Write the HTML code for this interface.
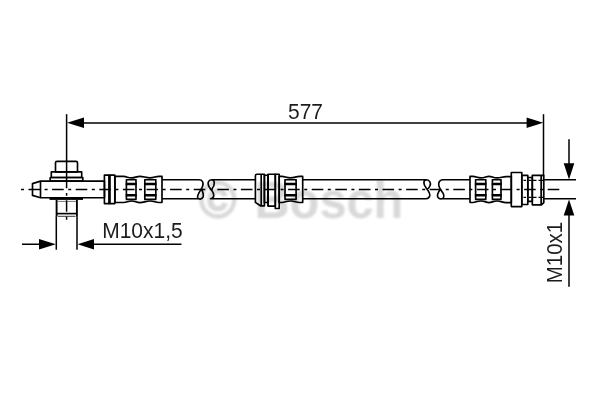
<!DOCTYPE html>
<html lang="en">
<head>
<meta charset="utf-8">
<title>Bosch brake hose 577 mm M10x1,5 / M10x1</title>
<style>
html,body{margin:0;padding:0;background:#fff;}
body{width:600px;height:400px;overflow:hidden;font-family:"Liberation Sans",sans-serif;}
svg{display:block;}
.o{fill:none;stroke:#000;stroke-width:1.65;stroke-linejoin:round;}
.l{fill:none;stroke:#000;stroke-width:1.65;stroke-linecap:butt;stroke-linejoin:round;}
.t{fill:none;stroke:#000;stroke-width:1.5;}
.c{fill:none;stroke:#000;stroke-width:1.4;}
.a{fill:#000;stroke:none;}
.txt{font-family:"Liberation Sans",sans-serif;font-size:21px;fill:#1c1c1c;}
.wm{font-family:"Liberation Sans",sans-serif;font-weight:bold;font-size:52px;fill:#d9d9d9;}
</style>
</head>
<body>
<svg width="600" height="400" viewBox="0 0 600 400">
<defs>
<filter id="b" x="-10%" y="-20%" width="120%" height="140%"><feGaussianBlur stdDeviation="1.1"/></filter>
<filter id="s" x="0" y="0" width="600" height="400" filterUnits="userSpaceOnUse"><feGaussianBlur stdDeviation="0.4"/></filter>
</defs>
<rect width="600" height="400" fill="#fff"/>

<!-- watermark -->
<g filter="url(#b)">
<text class="wm" transform="translate(199,217.6) scale(1,0.98)" textLength="37.5" lengthAdjust="spacingAndGlyphs" style="stroke:#d9d9d9;stroke-width:1.6">©</text>
<text class="wm" transform="translate(254.4,217.9) scale(1,1.01)" textLength="149" lengthAdjust="spacingAndGlyphs">Bosch</text>
</g>

<g transform="translate(0,0.2)" filter="url(#s)">
<!-- hose segments -->
<g id="hose">
<path class="o" d="M162,179.5 L199,179.5 C202.5,179.5 203.8,182.5 202.6,186 C201.4,189.5 197.2,194 197.6,197 C198,199.4 201.8,199.6 203,197 C204.2,194.3 202.6,191.5 201.6,189 M162,198.5 L199.5,198.5"/>
<path class="o" d="M255.5,179.5 L212,179.5 C208.8,179.5 207.4,182 208.4,185 C209.4,188 212.6,190.5 213.5,193.5 C214.3,196.3 213,198.5 210.5,198.5 L255.5,198.5 M212,179.5 C214.8,180 215.4,184.5 212,188.5"/>
<path class="o" d="M303,179.5 L426,179.5 C423.4,180 423,184 426,187.5 C428,190 430.2,193 429.8,195.5 C429.4,197.6 428,198.5 426,198.5 L303,198.5 M426,179.5 C429.5,179.5 431.2,182.5 430,185.5 C429.2,187.6 427.6,189 427,189.5"/>
<path class="o" d="M470,179.5 L442.5,179.5 C439.4,180 438.2,182.5 438.8,185.5 C439.4,188.5 441.5,190.5 443,193 C444.8,196 443.6,198.8 441,198.8 C438.2,198.8 436.8,196.4 437.8,193.5 C438.4,191.8 439.5,190.3 440.4,189 M441,198.5 L470,198.5"/>
</g>

<!-- banjo fitting -->
<g id="banjo">
<path class="o" d="M55.5,171.6 L55.5,162.6 Q55.5,161.2 57,161.2 L76,161.2 Q77.5,161.2 77.5,162.6 L77.5,171.6 Z"/>
<rect class="o" x="51.3" y="171.7" width="30.4" height="5.6"/>
<rect class="o" x="50.2" y="177.3" width="32.6" height="3.5"/>
<path class="o" d="M40.5,180.9 L104.5,180.9 L104.5,197.5 L40.5,197.5 L32.5,195.2 L32.5,183.4 Z"/>
<path class="l" d="M40.5,180.9 L40.5,197.5"/>
<rect class="a" x="49.5" y="197" width="33.5" height="2.7"/>
<path class="l" style="stroke-width:1.9" d="M56.6,199.5 V216.2 M76.9,199.5 V216.2"/>
<path class="l" style="stroke-width:1;stroke:#333" d="M58,216.1 H75.5"/>
<path class="l" d="M56.6,213.4 L76.9,213.4"/>
<path class="l" style="stroke:#777;stroke-width:1" d="M57.5,201.2 L76,201.2"/>
</g>

<!-- flanges + ferrule 1 -->
<g id="ferrule1">
<rect class="o" x="104.4" y="174.9" width="4.6" height="28.5"/>
<rect class="o" x="109.9" y="174.9" width="4.9" height="28.5"/>
<rect class="a" x="108.6" y="174.2" width="1.7" height="29.9"/>
<path class="o" d="M115,176.2 L123.5,176.2 C127,176.4 128,177.7 131.5,177.7 C135,177.7 136.5,176.1 140,176.1 C143.5,176.1 146,177.7 150,177.7 C154,177.7 155.5,176.1 159,176.1 L162,176.1 L162,202.3 L159,202.3 C155.5,202.3 154,200.8 150,200.8 C146,200.8 143.5,202.4 140,202.4 C136.5,202.4 135,200.8 131.5,200.8 C128,200.8 127,202.1 123.5,202.3 L115,202.3 Z"/>
<g class="l">
<path d="M126.4,179.3 V199.4 M136.0,179.3 V199.4 M125.8,179.5 H136.6 M125.8,199.2 H136.6"/>
<path style="stroke-width:2.5;stroke-linecap:butt" d="M125.7,183.7 H136.7 M125.7,195 H136.7"/>
<path d="M144.8,179.3 V199.4 M155.8,179.3 V199.4 M144.2,179.5 H156.4 M144.2,199.2 H156.4"/>
<path style="stroke-width:2.5;stroke-linecap:butt" d="M144.1,183.7 H156.5 M144.1,195 H156.5"/>
</g>
</g>

<!-- middle fitting + ferrule 2 -->
<g id="middle">
<path class="o" d="M255.4,175.5 Q255.4,174 257,174 L264.4,174 L264.4,205.6 L260.4,205.6 L255.4,202.2 Z"/>
<path class="l" d="M261.2,174 V205.6"/>
<rect class="o" x="264.4" y="175" width="3.6" height="27.3"/>
<rect class="o" x="268" y="174" width="7.3" height="31.9"/>
<rect class="a" x="267.2" y="174" width="1.7" height="31.9"/>
<rect class="o" x="275.3" y="174" width="3.9" height="34.3"/>
<path class="o" d="M279.2,176.2 L282,176.2 C285,176.4 286.5,177.7 290.5,177.7 C294.5,177.7 296,176.2 299.5,176.2 L302.7,176.2 L302.7,202.3 L299.5,202.3 C296,202.3 294.5,200.8 290.5,200.8 C286.5,200.8 285,202.1 282,202.3 L279.2,202.3 Z"/>
<g class="l">
<path d="M285.0,179.3 V199.4 M296.1,179.3 V199.4 M284.4,179.5 H296.7 M284.4,199.2 H296.7"/>
<path style="stroke-width:2.5;stroke-linecap:butt" d="M284.3,183.7 H296.8 M284.3,195 H296.8"/>
</g>
</g>

<!-- right ferrule + fitting -->
<g id="right">
<path class="o" d="M470,176.2 L473,176.2 C476,176.4 477,177.7 481,177.7 C485,177.7 486,176.1 489,176.1 C492,176.1 493,177.7 497,177.7 C501,177.7 502.5,176.4 506,176.4 L511.3,176.4 L511.3,202.4 L506,202.4 C502.5,202.4 501,200.8 497,200.8 C493,200.8 492,202.4 489,202.4 C486,202.4 485,200.8 481,200.8 C477,200.8 476,202.1 473,202.3 L470,202.3 Z"/>
<g class="l">
<path d="M475.6,179.3 V199.4 M485.8,179.3 V199.4 M475.0,179.5 H486.4 M475.0,199.2 H486.4"/>
<path style="stroke-width:2.5;stroke-linecap:butt" d="M474.9,183.7 H486.5 M474.9,195 H486.5"/>
<path d="M492.4,179.3 V199.4 M501.0,179.3 V199.4 M491.8,179.5 H501.6 M491.8,199.2 H501.6"/>
<path style="stroke-width:2.5;stroke-linecap:butt" d="M491.7,183.7 H501.7 M491.7,195 H501.7"/>
</g>
<rect class="o" x="511.3" y="172.3" width="10.5" height="34.1"/>
<rect class="o" x="521.8" y="175.2" width="6" height="29.1"/>
<rect class="o" x="527.8" y="177.3" width="4.5" height="23.8"/>
<path class="o" d="M532.3,175.2 L543.8,175.2 L543.8,202.4 L541.4,204.6 L532.3,204.6 Z"/>
<path class="l" style="stroke-width:1.8" d="M541.2,175.2 V204.6"/>
<path class="l" style="stroke-width:1.3" d="M523.5,180.2 H526 M528.8,180.2 H531.3 M533,180.2 H536.5 M538.5,180.2 H543.5 M523.5,197.2 H526 M528.8,197.2 H531.3 M533,197.2 H536.5 M538.5,197.2 H543.5"/>
</g>

<!-- centre line -->
<path class="c" stroke-dasharray="3 4.5 11.6 4.5" d="M21,189.3 H560"/>
<path class="c" style="stroke-width:1" d="M430,189.3 H439"/>
<!-- bolt axis -->
<path class="t" d="M66.6,114 V188"/>
<path class="t" d="M66.6,192.8 V195.5 M66.6,200 V211.5 M66.6,216.5 V219.5"/>

<!-- 577 dimension -->
<path class="t" d="M543.5,114 V175.5"/>
<path class="t" d="M83,122.7 H528"/>
<path class="a" d="M67,122.6 L84,117.4 L84,127.8 Z"/>
<path class="a" d="M543.2,122.6 L526.6,117.4 L526.6,127.8 Z"/>
<text class="txt" transform="translate(305.5,119.1) scale(1,1.08)" text-anchor="middle">577</text>

<!-- M10x1,5 dimension -->
<path class="t" d="M56.3,216 V249.5 M77,216 V249.5"/>
<path class="t" d="M22,244 H40 M93,244 H181.5"/>
<path class="a" d="M55.8,244 L39,238.8 L39,249.2 Z"/>
<path class="a" d="M77.6,244 L94,238.8 L94,249.2 Z"/>
<text class="txt" transform="translate(102.2,237.8) scale(1,1.08)">M10x1,5</text>

<!-- M10x1 dimension -->
<path class="t" d="M544,179.6 H576 M544,198.6 H576"/>
<path class="t" d="M569,139 V164 M569,214 V286.5"/>
<path class="a" d="M569,179.3 L563.7,163 L574.3,163 Z"/>
<path class="a" d="M569,199.3 L563.7,215.3 L574.3,215.3 Z"/>
<text class="txt" transform="translate(562.2,283) rotate(-90) scale(0.975,1.07)">M10x1</text>
</g>
</svg>
</body>
</html>
